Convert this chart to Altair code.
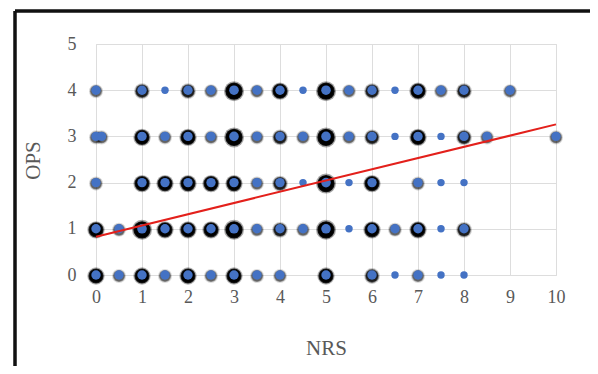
import altair as alt
import pandas as pd

# Points per OPS row: NRS position and overlap level (1 = single ... 5 = many)
row4_nrs = [0, 1, 1.5, 2, 2.5, 3, 3.5, 4, 4.5, 5, 5.5, 6, 6.5, 7, 7.5, 8, 9]
row4_lvl = [2, 3, 1, 3, 2, 5, 2, 4, 1, 5, 2, 3, 1, 4, 2, 3, 2]
row3_nrs = [0, 0.12, 1, 1.5, 2, 2.5, 3, 3.5, 4, 4.5, 5, 5.5, 6, 6.5, 7, 7.5, 8, 8.5, 10]
row3_lvl = [2, 2, 4, 2, 4, 2, 5, 2, 3, 2, 5, 2, 3, 1, 4, 1, 3, 2, 2]
row2_nrs = [0, 1, 1.5, 2, 2.5, 3, 3.5, 4, 4.5, 5, 5.5, 6, 7, 7.5, 8]
row2_lvl = [2, 4, 4, 4, 4, 4, 2, 3, 1, 5, 1, 4, 2, 1, 1]
row1_nrs = [0, 0.5, 1, 1.5, 2, 2.5, 3, 3.5, 4, 4.5, 5, 5.5, 6, 6.5, 7, 7.5, 8]
row1_lvl = [4, 2, 5, 4, 4, 4, 5, 2, 3, 2, 5, 1, 4, 2, 4, 1, 3]
row0_nrs = [0, 0.5, 1, 1.5, 2, 2.5, 3, 3.5, 4, 5, 6, 6.5, 7, 7.5, 8]
row0_lvl = [4, 2, 4, 2, 4, 2, 4, 2, 2, 4, 3, 1, 2, 1, 1]

trend_nrs = [0, 10]
trend_ops = [0.83, 3.26]

x_ticks = list(range(0, 11))
y_ticks = list(range(0, 6))

rows = []
for ops, xs, lv in [(4, row4_nrs, row4_lvl), (3, row3_nrs, row3_lvl),
                    (2, row2_nrs, row2_lvl), (1, row1_nrs, row1_lvl),
                    (0, row0_nrs, row0_lvl)]:
    for x, l in zip(xs, lv):
        rows.append({"NRS": x, "OPS": ops, "lvl": l})
df = pd.DataFrame(rows)
trend = pd.DataFrame({"NRS": trend_nrs, "OPS": trend_ops})

FONT = "Liberation Serif"
GRAY = "#595959"

xs = alt.Scale(domain=[0, 10], nice=False)
ys = alt.Scale(domain=[0, 5], nice=False)

x_enc = alt.X("NRS:Q", scale=xs, axis=alt.Axis(
    values=x_ticks, title="NRS", grid=True, domain=False, ticks=False, tickSize=0,
    labelFlush=False, labelPadding=13, labelFont=FONT, labelFontSize=18, labelColor=GRAY,
    titleFont=FONT, titleFontSize=21, titleFontWeight="normal", titleColor=GRAY,
    titleX=230, titleY=73, titleBaseline="middle", titleAlign="center"))
y_enc = alt.Y("OPS:Q", scale=ys, axis=alt.Axis(
    values=y_ticks, title="OPS", grid=True, domain=False, ticks=False, tickSize=0,
    labelFlush=False, labelPadding=20, labelFont=FONT, labelFontSize=18, labelColor=GRAY,
    titleFont=FONT, titleFontSize=21, titleFontWeight="normal", titleColor=GRAY,
    titleX=-63, titleY=116, titleBaseline="middle", titleAlign="center"))

cuts = [1.5, 2.5, 3.5, 4.5]


def thr(rng):
    return alt.Scale(type="threshold", domain=cuts, range=rng)


base = alt.Chart(df)

halo_outer = base.mark_circle(color="black", yOffset=1).encode(
    x=x_enc, y=y_enc,
    size=alt.Size("lvl:Q", scale=thr([0, 200, 250, 300, 400]), legend=None),
    opacity=alt.Opacity("lvl:Q", scale=thr([0, 0.14, 0.2, 0.3, 0.35]), legend=None),
)
halo_mid = base.mark_circle(color="black", yOffset=1).encode(
    x="NRS:Q", y="OPS:Q",
    size=alt.Size("lvl:Q", scale=thr([0, 150, 190, 230, 300]), legend=None),
    opacity=alt.Opacity("lvl:Q", scale=thr([0, 0.3, 0.5, 0.8, 0.9]), legend=None),
)
halo_inner = base.mark_circle(color="black", yOffset=1).encode(
    x="NRS:Q", y="OPS:Q",
    size=alt.Size("lvl:Q", scale=thr([0, 120, 150, 180, 240]), legend=None),
    opacity=alt.Opacity("lvl:Q", scale=thr([0, 0.35, 0.7, 1.0, 1.0]), legend=None),
)
dots = base.mark_circle(color="#4472C4", opacity=1).encode(
    x="NRS:Q", y="OPS:Q",
    size=alt.Size("lvl:Q", scale=thr([55, 88, 88, 88, 92]), legend=None),
)

line = alt.Chart(trend).mark_line(color="#e3201b", strokeWidth=2).encode(
    x="NRS:Q", y="OPS:Q")

frame_left = alt.Chart(trend).mark_rule(color="#111111", strokeWidth=3).encode(
    x=alt.value(-81), y=alt.value(-33), y2=alt.value(340))
frame_top = alt.Chart(trend).mark_rule(color="#111111", strokeWidth=3).encode(
    x=alt.value(-81), x2=alt.value(510), y=alt.value(-33))

chart = alt.layer(halo_outer, halo_mid, halo_inner, dots, line, frame_left, frame_top).resolve_scale(
    size="independent", opacity="independent"
).properties(
    width=460, height=231,
    autosize=alt.AutoSizeParams(type="none"),
    padding={"left": 88, "top": 36, "right": 34, "bottom": 91},
).configure_view(stroke=None).configure_axis(
    gridColor="#d9d9d9", gridWidth=1
).configure(background="white")

chart.save("out.html", embed_options={"renderer": "svg", "actions": False})
